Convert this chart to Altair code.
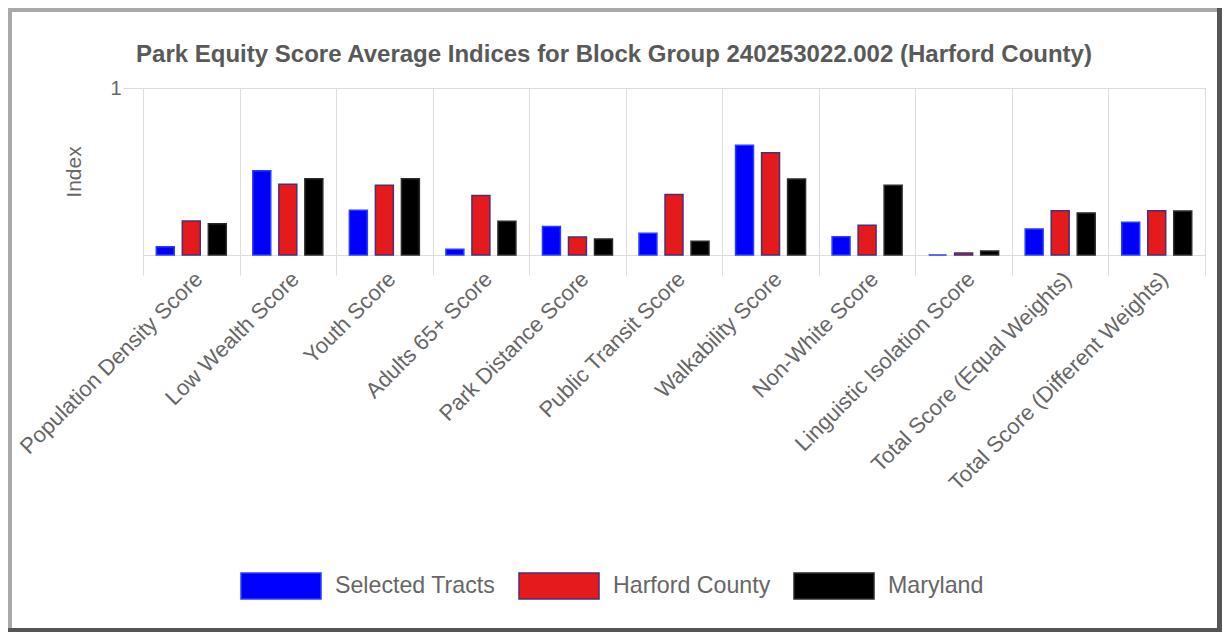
import altair as alt
import pandas as pd

categories = [
    "Population Density Score", "Low Wealth Score", "Youth Score", "Adults 65+ Score",
    "Park Distance Score", "Public Transit Score", "Walkability Score", "Non-White Score",
    "Linguistic Isolation Score", "Total Score (Equal Weights)", "Total Score (Different Weights)",
]
series = ["Selected Tracts", "Harford County", "Maryland"]
selected_tracts = [0.05, 0.505, 0.268, 0.034, 0.17, 0.13, 0.657, 0.11, 0.0, 0.156, 0.196]
harford_county = [0.204, 0.423, 0.417, 0.357, 0.108, 0.363, 0.613, 0.178, 0.012, 0.265, 0.265]
maryland = [0.187, 0.457, 0.457, 0.202, 0.096, 0.082, 0.455, 0.417, 0.024, 0.252, 0.263]
title_text = "Park Equity Score Average Indices for Block Group 240253022.002 (Harford County)"

fills = ["#0000ff", "#e41a1c", "#000000"]
strokes = ["#2a3cff", "#4a3070", "#2a2a2a"]

rows = []
for s, vals in zip(series, [selected_tracts, harford_county, maryland]):
    for c, v in zip(categories, vals):
        rows.append({"category": c, "series": s, "value": v})
df = pd.DataFrame(rows)

W, H = 1062, 167
PAD_L, PAD_T, PAD_R, PAD_B = 135, 80, 17, 377

FONT = "Liberation Sans"

bars = alt.Chart(df).mark_bar(strokeWidth=1.5, clip=False).encode(
    x=alt.X("category:N", sort=categories, title=None,
            scale=alt.Scale(paddingInner=0, paddingOuter=0),
            axis=alt.Axis(labelAngle=-45, labelFontSize=22, labelColor="#666666",
                          labelFont=FONT, labelLimit=400, labelOverlap=False,
                          labelPadding=-7, tickBand="extent", tickSize=20,
                          tickColor="#dddddd", grid=True, gridColor="#dddddd",
                          domainColor="#dddddd")),
    xOffset=alt.XOffset("series:N", sort=series,
                        scale=alt.Scale(paddingInner=0.31, paddingOuter=0.51)),
    y=alt.Y("value:Q", scale=alt.Scale(domain=[0, 1], nice=False),
            axis=alt.Axis(values=[1], title="Index", titleFontSize=21,
                          titleFontWeight="normal", titleColor="#666666", titleFont=FONT,
                          titlePadding=25, labelFontSize=20, labelColor="#666666",
                          labelFont=FONT, labelPadding=2, tickSize=20, tickColor="#dddddd",
                          grid=True, gridColor="#dddddd", domain=False)),
    color=alt.Color("series:N", sort=series, title=None,
                    scale=alt.Scale(domain=series, range=fills),
                    legend=alt.Legend(orient="none", legendX=97, legendY=457,
                                      direction="horizontal", columns=3,
                                      symbolType="M-1,-0.325H1V0.325H-1Z",
                                      symbolSize=6400, symbolStrokeWidth=1.5,
                                      labelFontSize=23.2, labelColor="#666666",
                                      labelFont=FONT, labelOffset=13, labelLimit=400,
                                      columnPadding=20, padding=0)),
    stroke=alt.Stroke("series:N", sort=series, title=None,
                      scale=alt.Scale(domain=series, range=strokes)),
)

one_df = pd.DataFrame({"t": [title_text]})
title_mark = alt.Chart(one_df).mark_text(
    fontSize=24, fontWeight="bold", color="#595959", font=FONT,
    align="center", baseline="middle", clip=False,
).encode(text="t:N", x=alt.value(W / 2 - 60), y=alt.value(-33))

frame_top = alt.Chart(one_df).mark_rect(color="#a9a9a9", clip=False).encode(
    x=alt.value(-PAD_L), x2=alt.value(W + PAD_R), y=alt.value(-PAD_T), y2=alt.value(-PAD_T + 4))
frame_left = alt.Chart(one_df).mark_rect(color="#a9a9a9", clip=False).encode(
    x=alt.value(-PAD_L), x2=alt.value(-PAD_L + 4), y=alt.value(-PAD_T), y2=alt.value(H + PAD_B))
frame_right = alt.Chart(one_df).mark_rect(color="#555555", clip=False).encode(
    x=alt.value(W + PAD_R - 5), x2=alt.value(W + PAD_R), y=alt.value(-PAD_T), y2=alt.value(H + PAD_B))
frame_bottom = alt.Chart(one_df).mark_rect(color="#555555", clip=False).encode(
    x=alt.value(-PAD_L), x2=alt.value(W + PAD_R), y=alt.value(H + PAD_B - 4), y2=alt.value(H + PAD_B))

chart = alt.layer(bars, title_mark, frame_top, frame_left, frame_right, frame_bottom).properties(
    width=W, height=H,
    padding={"left": PAD_L, "top": PAD_T, "right": PAD_R, "bottom": PAD_B},
    autosize=alt.AutoSizeParams(type="none"),
).configure_view(stroke=None).configure(background="white")

chart.save("out.html", embed_options={"renderer": "svg", "actions": False})
